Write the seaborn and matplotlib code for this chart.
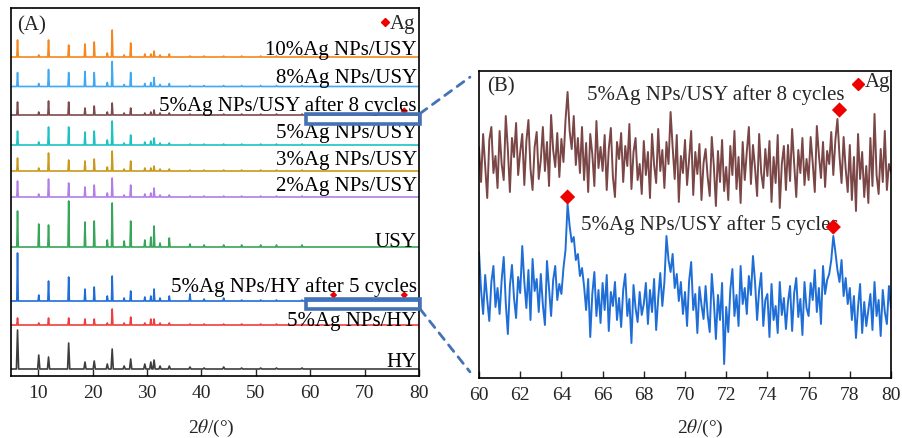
import numpy as np
import pandas as pd
import matplotlib
matplotlib.use("Agg")
import matplotlib.pyplot as plt
import seaborn as sns
from matplotlib.patches import Rectangle, ConnectionPatch

sns.set_style("ticks")
plt.rcParams["font.family"] = ["Liberation Serif", "DejaVu Serif"]
plt.rcParams["mathtext.fontset"] = "stix"

# ---------------- Panel A data ----------------
peaks_2theta = [6.2, 10.1, 11.9, 15.6, 18.6, 20.3, 22.7, 23.6, 25.8, 27.0, 29.6,
                30.7, 31.3, 32.4, 34.1, 37.9, 40.5, 44.1, 47.4, 50.9, 53.8, 58.5]
samples = ["10%Ag NPs/USY", "8%Ag NPs/USY", "5%Ag NPs/USY after 8 cycles",
           "5%Ag NPs/USY", "3%Ag NPs/USY", "2%Ag NPs/USY", "USY",
           "5%Ag NPs/HY after 5 cycles", "5%Ag NPs/HY", "HY"]
offsets = [319, 289.5, 261, 231, 205, 179, 129, 75, 51, 7]
h_10Ag = [17, 2, 17, 12, 13, 15, 4, 27, 2, 14, 3, 3, 6, 2, 3, 1, 1, 1, 1, 1, 1, 1]
h_8Ag = [14, 3, 17, 14, 15, 14, 4, 25, 2, 14, 3, 4, 9, 2, 3, 1, 1, 1, 1, 1, 1, 1]
h_5Ag_8cyc = [13, 3, 14, 13, 7, 9, 3, 12, 2, 7, 2, 3, 5, 2, 2, 1, 1, 1, 1, 1, 1, 1]
h_5Ag = [14, 3, 18, 18, 13, 14, 5, 24, 2, 10, 3, 4, 7, 2, 2, 1, 1, 1, 1, 1, 1, 1]
h_3Ag = [13, 3, 18, 11, 10, 12, 4, 20, 2, 10, 3, 3, 5, 2, 2, 1, 1, 1, 1, 1, 1, 1]
h_2Ag = [16, 3, 18, 14, 10, 12, 4, 19, 2, 12, 3, 4, 9, 2, 2, 1, 1, 1, 1, 1, 1, 1]
h_USY = [36, 23, 22, 46, 25, 26, 7, 44, 6, 26, 7, 10, 21, 4, 9, 3, 2, 2, 2, 2, 2, 2]
h_HY_5cyc = [48, 6, 20, 24, 12, 14, 5, 25, 3, 10, 4, 5, 12, 3, 5, 7, 2, 3, 1, 1, 1, 1]
h_5Ag_HY = [7, 2, 7, 7, 6, 6, 2, 16, 2, 8, 2, 6, 6, 2, 2, 1, 1, 1, 1, 1, 1, 1]
h_HY = [39, 14, 12, 26, 7, 8, 5, 20, 3, 10, 5, 7, 9, 3, 3, 2, 1, 2, 1, 1, 1, 1]
heights = [h_10Ag, h_8Ag, h_5Ag_8cyc, h_5Ag, h_3Ag, h_2Ag, h_USY, h_HY_5cyc, h_5Ag_HY, h_HY]
colors = ["#f5871f", "#41a9f2", "#7d4b4b", "#1dc2c2", "#c99a1e", "#b27fe6",
          "#37a55a", "#1f6ed8", "#ee3e3e", "#3d3d3d"]
label_y = [322, 294, 266, 239, 212, 186, 130, 85, 51, 10]

# Ag marks in panel A (2theta, level)
agA_x = [64.3, 77.3, 77.3]
agA_y = [81, 81, 265]

# ---------------- Panel B data (60-80 deg, step 0.1) ----------------
brown_B = [
    231, 196, 244, 212, 180, 238, 251, 205, 222, 190,
    247, 214, 198, 262, 229, 186, 240, 221, 255, 203,
    226, 244, 193, 237, 258, 209, 188, 231, 246, 199,
    218, 251, 207, 236, 192, 263, 228, 211, 245, 201,
    239, 216, 258, 286, 247, 229, 262, 213, 240, 205,
    251, 198, 235, 186, 244, 224, 192, 257, 210, 231,
    207, 243, 188, 229, 250, 201, 181, 236, 219, 245,
    196, 232, 212, 254, 189, 226, 240, 198, 214, 184,
    237, 203, 226, 180, 244, 213, 195, 249, 207, 228,
    190, 236, 214, 266, 231, 199, 243, 176, 222, 205,
    238, 193, 219, 247, 183, 226, 204, 234, 178, 215,
    229, 201, 182, 241, 212, 172, 227, 196, 238, 187,
    211, 178, 232, 203, 247, 189, 221, 175, 236, 198,
    226, 251, 194, 233, 210, 182, 244, 205, 190, 229,
    202, 237, 176, 221, 195, 243, 170, 214, 232, 188,
    233, 197, 249, 214, 181, 228, 205, 240, 193, 219,
    198, 241, 215, 186, 252, 223, 200, 236, 191, 227,
    214, 246, 203, 238, 259, 222, 195, 241, 209, 186,
    233, 178, 221, 167, 244, 199, 226, 181, 212, 175,
    240, 192, 264, 203, 184, 229, 196, 247, 188, 214,
    206]
blue_B = [
    126, 88, 64, 103, 78, 57, 96, 112, 71, 90,
    64, 98, 121, 75, 44, 92, 113, 80, 60, 101,
    85, 132, 96, 70, 108, 58, 119, 87, 99, 66,
    104, 73, 53, 117, 89, 62, 98, 112, 78, 94,
    84, 110, 128, 174, 152, 136, 141, 118, 124, 102,
    110, 92, 68, 99, 41, 84, 106, 62, 88, 55,
    95, 68, 103, 47, 86, 72, 96, 58, 80, 51,
    88, 104, 62, 79, 35, 93, 70, 56, 86, 63,
    74, 95, 54, 88, 66, 99, 48, 80, 105, 72,
    96, 142, 118, 106, 124, 90, 104, 77, 96, 64,
    86, 52, 97, 116, 68, 84, 45, 91, 73, 59,
    92, 63, 46, 104, 77, 39, 83, 58, 95, 14,
    71, 46, 88, 109, 62, 83, 52, 112, 74, 90,
    64, 102, 83, 122, 96, 58, 88, 105, 52, 78,
    84, 41, 94, 58, 72, 45, 96, 63, 80, 49,
    76, 92, 47, 85, 100, 61, 79, 43, 96, 70,
    62, 95, 78, 108, 66, 90, 54, 112, 84, 98,
    104, 118, 142, 126, 108, 96, 118, 82, 100, 74,
    90, 58, 82, 40, 71, 94, 45, 76, 52, 68,
    84, 48, 96, 62, 78, 42, 88, 66, 54, 92,
    70]
agB_x = [64.3, 77.2, 77.5]
agB_y = [181, 151, 268]

# ---------------- Figure ----------------
W, H = 902, 439
fig = plt.figure(figsize=(W / 100, H / 100), dpi=100)
axA = fig.add_axes([11 / W, (H - 377) / H, 408 / W, 368 / H])
axB = fig.add_axes([479 / W, (H - 379) / H, 412 / W, 307 / H])

# build panel A frame
rows = []
for name, base, hs in zip(samples, offsets, heights):
    hw = 0.2 if name == "HY" else 0.13
    rows.append((name, 5.0, base))
    for p, h in zip(peaks_2theta, hs):
        rows += [(name, p - hw, base), (name, p, base + h), (name, p + hw, base)]
    rows.append((name, 80.0, base))
dfA = pd.DataFrame(rows, columns=["sample", "two_theta", "intensity"])
sns.lineplot(data=dfA, x="two_theta", y="intensity", hue="sample",
             palette=dict(zip(samples, colors)), estimator=None, sort=False,
             legend=False, linewidth=1.2, ax=axA)

for name, y in zip(samples, label_y):
    axA.text(79.6, y, name, ha="right", va="baseline", fontsize=15, color="black")
axA.text(6.1, 351, "(A)", ha="left", va="center", fontsize=15)
axA.plot([73.75], [354], marker="D", color="#ee0000", markersize=3.8, linestyle="none")
axA.text(74.6, 353, "Ag", ha="left", va="center", fontsize=15)
sns.scatterplot(x=agA_x, y=agA_y, marker="D", color="#ee0000", s=14,
                edgecolor="none", ax=axA)

box_color = "#4472b4"
axA.add_patch(Rectangle((59.3, 252.5), 20.9, 10, fill=False, edgecolor=box_color,
                        linewidth=2.6, clip_on=False, zorder=5))
axA.add_patch(Rectangle((59.3, 67), 20.9, 10.5, fill=False, edgecolor=box_color,
                        linewidth=2.6, clip_on=False, zorder=5))

axA.set_xlim(5, 80)
axA.set_ylim(0, 368)
axA.set_xticks(range(10, 81, 10))
axA.set_yticks([])
axA.set_xlabel(r"2$\theta$/(°)", fontsize=14)
axA.set_ylabel("")
axA.xaxis.set_label_coords(0.49, -0.112)

# panel B
xB = np.arange(len(brown_B)) * 0.1 + 60
dfB = pd.DataFrame({"two_theta": np.concatenate([xB, xB]),
                    "intensity": brown_B + blue_B,
                    "sample": ["after8"] * len(xB) + ["after5"] * len(xB)})
sns.lineplot(data=dfB, x="two_theta", y="intensity", hue="sample",
             palette={"after8": "#7a4646", "after5": "#1f6ed8"}, estimator=None,
             legend=False, linewidth=1.4, ax=axB)
sns.scatterplot(x=agB_x, y=agB_y, marker="D", color="#ee0000", s=60,
                edgecolor="none", ax=axB, zorder=5)
axB.text(60.39, 292.5, "(B)", ha="left", va="center", fontsize=15)
axB.text(71.5, 279, "5%Ag NPs/USY after 8 cycles", ha="center", va="baseline", fontsize=15)
axB.text(71.2, 149, "5%Ag NPs/USY after 5 cycles", ha="center", va="baseline", fontsize=15)
axB.plot([78.4], [294], marker="D", color="#ee0000", markersize=6.5, linestyle="none")
axB.text(78.75, 296, "Ag", ha="left", va="center", fontsize=15)
axB.set_xlim(60, 80)
axB.set_ylim(0, 307)
axB.set_xticks(range(60, 81, 2))
axB.set_yticks([])
axB.set_xlabel(r"2$\theta$/(°)", fontsize=14)
axB.set_ylabel("")
axB.xaxis.set_label_coords(0.536, -0.127)

for ax in (axA, axB):
    for s in ax.spines.values():
        s.set_visible(True)
        s.set_color("black")
        s.set_linewidth(1.2)
    ax.tick_params(axis="x", direction="in", length=5, width=1.0, labelsize=14, pad=6)

# dashed connectors
for xyA, xyB in [((80.2, 262.5), (-0.022, 0.98)), ((80.2, 67), (-0.022, 0.02))]:
    con = ConnectionPatch(xyA=xyA, coordsA=axA.transData, xyB=xyB,
                          coordsB=axB.transAxes, color=box_color, linewidth=2.0,
                          linestyle=(0, (3, 2.5)))
    fig.add_artist(con)

fig.savefig("out.png", dpi=100)
